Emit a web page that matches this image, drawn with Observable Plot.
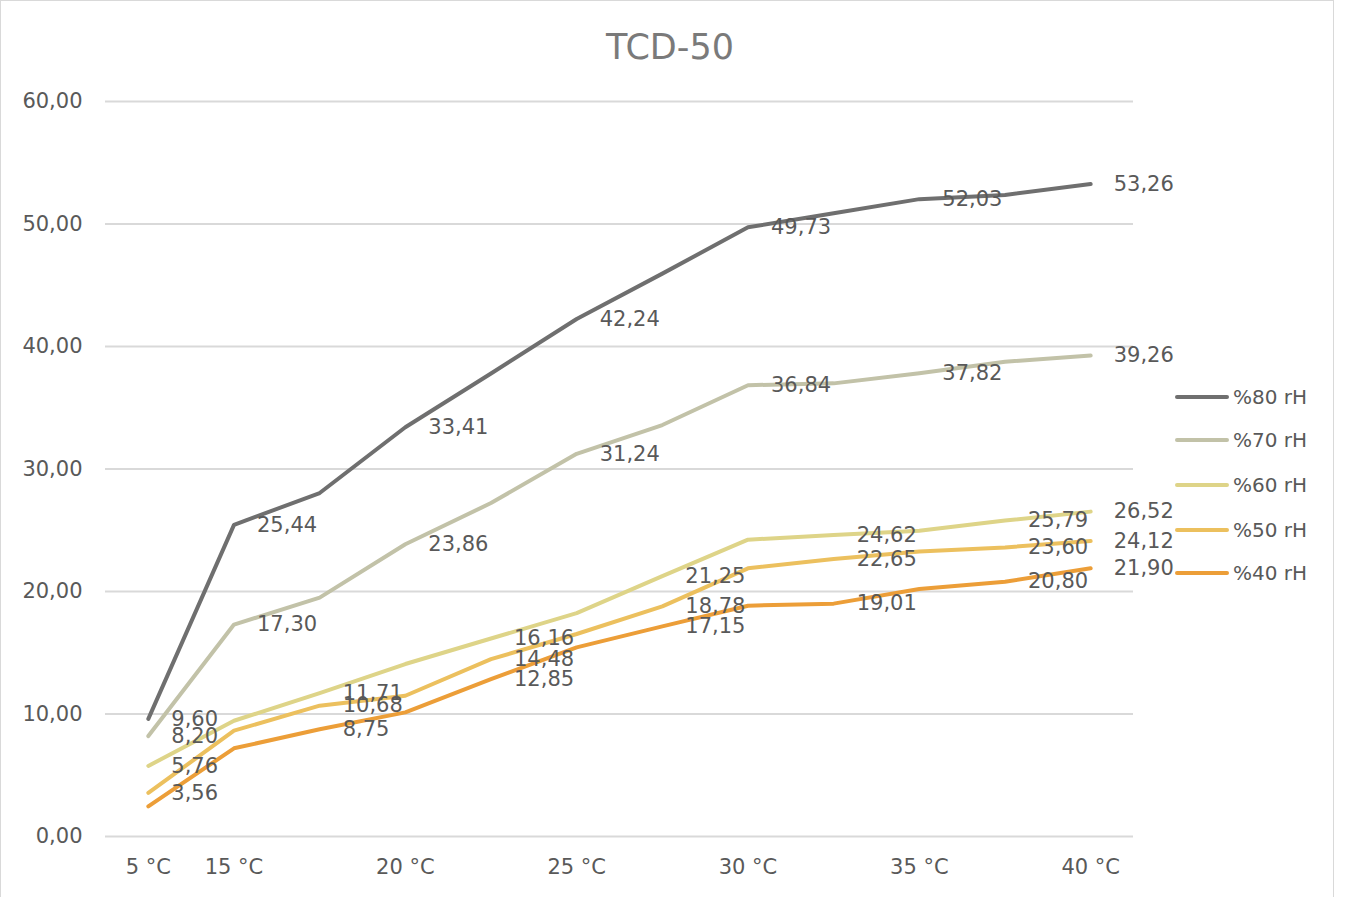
<!DOCTYPE html>
<html>
<head>
<meta charset="utf-8">
<script src="https://cdn.jsdelivr.net/npm/d3@7"></script>
<script src="https://cdn.jsdelivr.net/npm/@observablehq/plot@0.6"></script>
<style>
  html, body { margin: 0; padding: 0; background: #fff; }
  #wrap { position: relative; width: 1345px; height: 897px; overflow: hidden; font-family: "DejaVu Sans", sans-serif; }
  #border { position: absolute; left: 0; top: 0; width: 1334px; height: 910px; border: 1px solid #d9d9d9; box-sizing: border-box; }
  #title { position: absolute; left: 0; width: 1340px; top: 27px; text-align: center; font-size: 35px; line-height: 40px; color: #7a7a7a; }
  #chart { position: absolute; left: 0; top: 0; }
  #legend { position: absolute; left: 1175px; top: 0; }
  .item { position: absolute; left: 0; height: 24px; display: flex; align-items: center; white-space: nowrap; font-size: 20px; color: #595959; }
  .sw { width: 54px; height: 4px; border-radius: 2px; margin-right: 4px; }
</style>
</head>
<body>
<div id="wrap">
  <div id="border"></div>
  <div id="title">TCD-50</div>
  <div id="chart"></div>
  <div id="legend"></div>
</div>
<script>
// Category (x) tick labels; blanks are unlabeled intermediate points
const xLabels = ["5 °C", "15 °C", "", "20 °C", "", "25 °C", "", "30 °C", "", "35 °C", "", "40 °C"];

// Series names and colours
const seriesNames = ["%80 rH", "%70 rH", "%60 rH", "%50 rH", "%40 rH"];
const seriesColors = ["#6f6f6f", "#c2c2a8", "#ded488", "#ecc05e", "#ec9e38"];

// Series values
const rh80 = [9.60, 25.44, 28.04, 33.41, 37.80, 42.24, 45.95, 49.73, 50.88, 52.03, 52.37, 53.26];
const rh70 = [8.20, 17.30, 19.50, 23.86, 27.22, 31.24, 33.59, 36.84, 36.99, 37.82, 38.76, 39.26];
const rh60 = [5.76, 9.45, 11.71, 14.08, 16.16, 18.24, 21.25, 24.23, 24.62, 24.96, 25.79, 26.52];
const rh50 = [3.56, 8.64, 10.68, 11.49, 14.48, 16.53, 18.78, 21.89, 22.65, 23.27, 23.60, 24.12];
const rh40 = [2.46, 7.20, 8.75, 10.13, 12.85, 15.44, 17.15, 18.84, 19.01, 20.20, 20.80, 21.90];

// Which points carry a data label, per series
const labels80 = [0, 1, 3, 5, 7, 9, 11];
const labels70 = [0, 1, 3, 5, 7, 9, 11];
const labels60 = [0, 2, 4, 6, 8, 10, 11];
const labels50 = [0, 2, 4, 6, 8, 10, 11];
const labels40 = [2, 4, 6, 8, 10, 11];

// Y axis ticks
const yTicks = [0, 10, 20, 30, 40, 50, 60];

const allValues = [rh80, rh70, rh60, rh50, rh40];
const allLabels = [labels80, labels70, labels60, labels50, labels40];

const fmt = v => v.toFixed(2).replace(".", ",");

const rows = seriesNames.flatMap((name, s) =>
  allValues[s].map((v, i) => ({ series: name, i, v, labeled: allLabels[s].includes(i) }))
);

const chart = Plot.plot({
  width: 1345,
  height: 897,
  marginTop: 101,
  marginBottom: 61,
  marginLeft: 105,
  marginRight: 212,
  style: { fontFamily: "DejaVu Sans, sans-serif", fontSize: "21px", color: "#595959", background: "transparent" },
  x: { type: "point", domain: d3.range(xLabels.length), padding: 0.5, round: false, label: null, tickSize: 0, tickPadding: 23, tickFormat: i => xLabels[i] },
  y: { domain: [0, 60], ticks: yTicks, tickFormat: fmt, label: null, tickSize: 0, tickPadding: 23 },
  color: { domain: seriesNames, range: seriesColors },
  marks: [
    Plot.ruleY(yTicks, { stroke: "#d9d9d9", strokeWidth: 2 }),
    Plot.lineY(rows, { x: "i", y: "v", z: "series", stroke: "series", strokeWidth: 4, strokeLinejoin: "round", strokeLinecap: "round" }),
    Plot.text(rows.filter(d => d.labeled), { x: "i", y: "v", text: d => fmt(d.v), dx: 23, textAnchor: "start", lineAnchor: "middle", fill: "#595959", fontSize: 21 })
  ]
});
document.getElementById("chart").appendChild(chart);

// Legend
const legendTops = [397, 440, 485, 530, 573];
const legend = document.getElementById("legend");
seriesNames.forEach((name, k) => {
  const item = document.createElement("div");
  item.className = "item";
  item.style.top = (legendTops[k] - 12) + "px";
  const sw = document.createElement("span");
  sw.className = "sw";
  sw.style.background = seriesColors[k];
  const tx = document.createElement("span");
  tx.textContent = name;
  item.appendChild(sw);
  item.appendChild(tx);
  legend.appendChild(item);
});
</script>
</body>
</html>
